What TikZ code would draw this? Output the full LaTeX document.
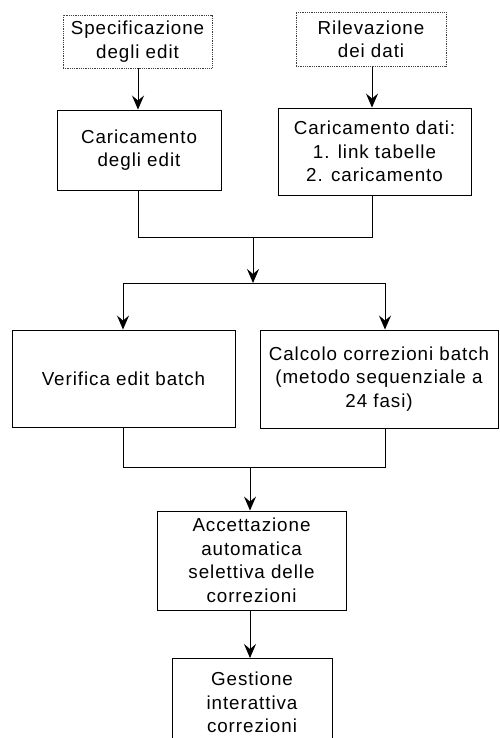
\documentclass[tikz,border=0pt]{standalone}
\usepackage{fontspec}
\setmainfont[LetterSpace=5]{Liberation Sans}
\usetikzlibrary{arrows.meta}
\begin{document}
\begin{tikzpicture}[x=1pt,y=-1pt,
  box/.style={draw,line width=0.9pt,align=center,inner sep=0pt,
    font=\fontsize{18.8}{23.5}\selectfont},
  srcbox/.style={box,draw=black!75,line width=0.7pt,dash pattern=on 1pt off 0.8pt},
  link/.style={line width=0.9pt},
  flow/.style={link,-{Stealth[length=14pt,width=12pt,inset=5pt]}}]
\useasboundingbox (0,0) rectangle (499,738);
\clip (0,0) rectangle (499,738);

% sources
\node[srcbox,minimum width=149pt,minimum height=53pt] (spec) at (137.5,41.5) {Specificazione\\degli edit};
\node[srcbox,minimum width=150pt,minimum height=54pt] (ril) at (371,39.5) {Rilevazione\\dei dati};

% loading steps
\node[box,minimum width=164pt,minimum height=80pt] (cedit) at (139,150) {Caricamento\\degli edit};
\node[box,minimum width=193pt,minimum height=87pt] (cdati) at (374.5,151.5) {Caricamento dati:\\1. link tabelle\\2. caricamento};

% batch steps
\node[box,minimum width=223pt,minimum height=97pt] (verif) at (123.5,378.5) {Verifica edit batch};
\node[box,minimum width=238pt,minimum height=98pt] (calc) at (379,379) {Calcolo correzioni batch\\(metodo sequenziale a\\24 fasi)};

% acceptance and interactive handling
\node[box,minimum width=189pt,minimum height=99pt] (acc) at (251.5,560.5) {Accettazione\\automatica\\selettiva delle\\correzioni};
\node[box,minimum width=160pt,minimum height=88pt,anchor=north] (gest) at (252,658) {Gestione\\interattiva\\correzioni};

% junction points
\coordinate (j1l) at (138,237);
\coordinate (j1r) at (372,237);
\coordinate (j1) at (253,237);
\coordinate (s1) at (253,283);
\coordinate (s1l) at (123,283);
\coordinate (s1r) at (385,283);
\coordinate (j2l) at (123,467);
\coordinate (j2r) at (385,467);
\coordinate (j2) at (250,467);

\draw[flow] (spec.south -| j1l) -- (cedit.north -| j1l);
\draw[flow] (ril.south -| j1r) -- (cdati.north -| j1r);

\draw[link] (cedit.south -| j1l) -- (j1l) -- (j1r) -- (cdati.south -| j1r);
\draw[flow] (j1) -- (s1);
\draw[link] (s1l) -- (s1r);
\draw[flow] (s1l) -- (verif.north -| s1l);
\draw[flow] (s1r) -- (calc.north -| s1r);

\draw[link] (verif.south -| j2l) -- (j2l) -- (j2r) -- (calc.south -| j2r);
\draw[flow] (j2) -- (acc.north -| j2);
\draw[flow] (acc.south -| j2) -- (gest.north -| j2);
\end{tikzpicture}
\end{document}
